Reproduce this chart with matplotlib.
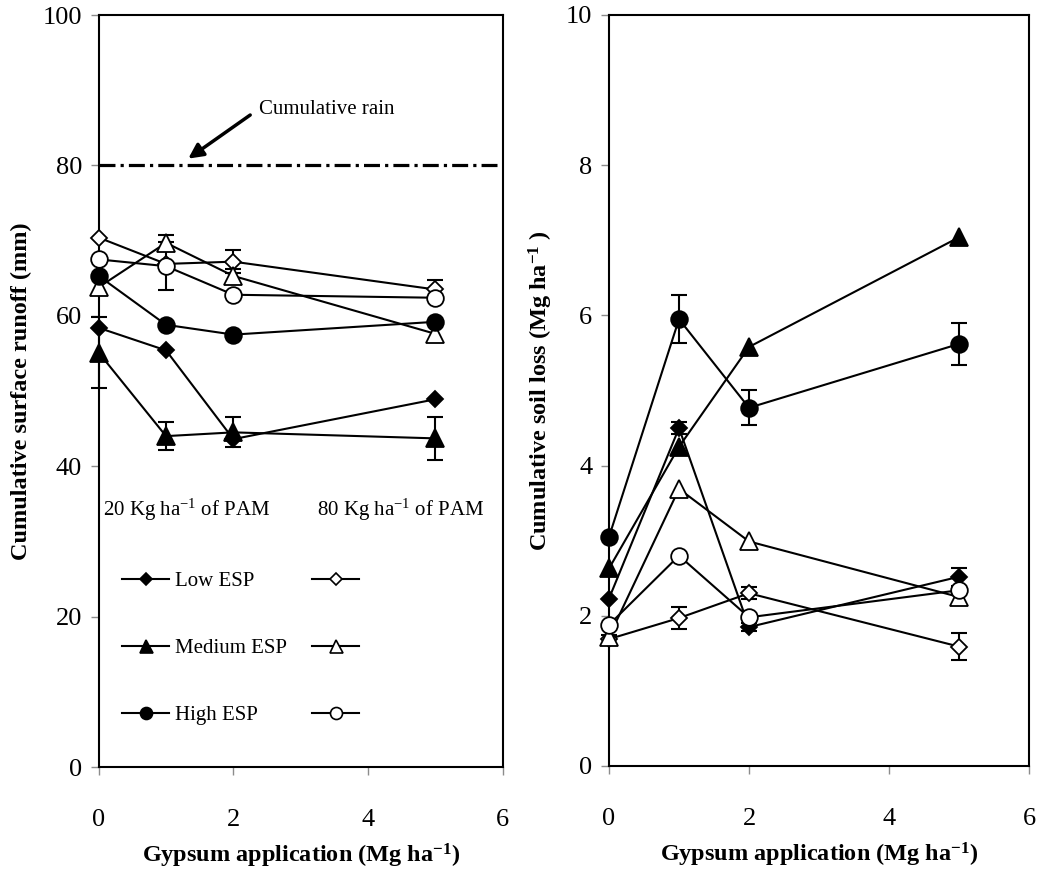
import numpy as np
import matplotlib.pyplot as plt
from matplotlib.lines import Line2D

plt.rcParams['font.family'] = ['Liberation Serif', 'DejaVu Serif']
plt.rcParams['mathtext.fontset'] = 'custom'
plt.rcParams['mathtext.rm'] = 'Liberation Serif'
plt.rcParams['mathtext.it'] = 'Liberation Serif:italic'
plt.rcParams['mathtext.bf'] = 'Liberation Serif:bold'

# gypsum rates (Mg/ha)
gypsum = np.array([0, 1, 2, 5])
cumulative_rain = 80

# cumulative surface runoff (mm)
runoff_low20 = [58.4, 55.4, 43.6, 48.9]
runoff_low80 = [70.4, 66.9, 67.2, 63.5]
runoff_med20 = [55.1, 44.0, 44.5, 43.7]
runoff_med80 = [63.8, 69.7, 65.3, 57.6]
runoff_high20 = [65.3, 58.8, 57.5, 59.2]
runoff_high80 = [67.5, 66.6, 62.8, 62.4]

runoff_err_low20 = [0, 0, 0, 0]
runoff_err_low80 = [0, 0, 1.5, 1.3]
runoff_err_med20 = [4.7, 1.9, 2.0, 2.9]
runoff_err_med80 = [0, 1.0, 0.9, 0]
runoff_err_high20 = [0, 0, 0, 0]
runoff_err_high80 = [0, 3.2, 0, 0]

# cumulative soil loss (Mg/ha)
loss_low20 = [2.23, 4.50, 1.85, 2.52]
loss_low80 = [1.69, 1.97, 2.30, 1.59]
loss_med20 = [2.63, 4.25, 5.58, 7.04]
loss_med80 = [1.72, 3.69, 2.99, 2.25]
loss_high20 = [3.05, 5.95, 4.77, 5.62]
loss_high80 = [1.88, 2.80, 1.98, 2.34]

loss_err_low20 = [0, 0.08, 0.05, 0.12]
loss_err_low80 = [0.05, 0.15, 0.08, 0.18]
loss_err_med20 = [0, 0, 0, 0]
loss_err_med80 = [0, 0, 0, 0]
loss_err_high20 = [0, 0.32, 0.23, 0.28]
loss_err_high80 = [0, 0, 0, 0]

esp_labels = ['Low ESP', 'Medium ESP', 'High ESP']
markers = {'low': ('D', 8.5), 'med': ('^', 13), 'high': ('o', 12)}

TICK_FS = 19
LABEL_FS = 17.5
TEXT_FS = 15


def draw_series(ax, y, err, kind, filled):
    marker, ms = markers[kind]
    err = np.asarray(err, dtype=float)
    y = np.asarray(y, dtype=float)
    m = err > 0
    if m.any():
        ax.errorbar(gypsum[m], y[m], yerr=err[m], fmt='none', ecolor='black',
                    elinewidth=1.5, capsize=5.5, capthick=1.5, zorder=2, clip_on=False)
    ax.plot(gypsum, y, color='black', lw=1.5, marker=marker, ms=ms,
            mfc='black' if filled else 'white', mec='black', mew=1.3,
            zorder=3, clip_on=False)


def style_axis(ax):
    for s in ax.spines.values():
        s.set_linewidth(1.5)
        s.set_color('black')
    ax.tick_params(direction='out', length=6, width=1, color='#8c8c8c',
                   labelsize=TICK_FS, labelcolor='black')
    ax.tick_params(axis='x', pad=24)
    ax.tick_params(axis='y', pad=6)
    ax.set_xlim(0, 6)
    ax.set_xticks([0, 2, 4, 6])
    ax.set_xlabel(r'Gypsum application (Mg ha$\mathbf{^{-1}}$)',
                  fontsize=LABEL_FS, fontweight='bold')
    ax.xaxis.set_label_coords(0.5, -0.1)


fig = plt.figure(figsize=(10.44, 8.76), dpi=100)
ax1 = fig.add_axes([98.7 / 1044, 109 / 876, 404 / 1044, 752 / 876])
ax2 = fig.add_axes([609 / 1044, 110 / 876, 420 / 1044, 751 / 876])

# left panel: runoff
draw_series(ax1, runoff_low20, runoff_err_low20, 'low', True)
draw_series(ax1, runoff_low80, runoff_err_low80, 'low', False)
draw_series(ax1, runoff_med20, runoff_err_med20, 'med', True)
draw_series(ax1, runoff_med80, runoff_err_med80, 'med', False)
draw_series(ax1, runoff_high20, runoff_err_high20, 'high', True)
draw_series(ax1, runoff_high80, runoff_err_high80, 'high', False)

ax1.axhline(cumulative_rain, xmin=0, xmax=0.987, color='black', lw=2.3,
            linestyle=(0, (5, 1.6, 1, 1.6)), zorder=1)
ax1.annotate('', xy=(1.33, 80.9), xytext=(2.25, 86.7),
             arrowprops=dict(arrowstyle='-|>', lw=2.5, color='black',
                             mutation_scale=22, shrinkA=0, shrinkB=0))
ax1.text(2.38, 87.4, 'Cumulative rain', fontsize=TEXT_FS, ha='left', va='center')

ax1.set_ylim(0, 100)
ax1.set_yticks([0, 20, 40, 60, 80, 100])
style_axis(ax1)
ax1.set_ylabel('Cumulative surface runoff (mm)', fontsize=LABEL_FS, fontweight='bold')
ax1.yaxis.set_label_coords(-0.165, 0.5)

# legend block
ax1.text(0.011, 0.342, r'20 Kg ha$^{-1}$ of PAM', transform=ax1.transAxes,
         fontsize=TEXT_FS, ha='left', va='center')
ax1.text(0.541, 0.342, r'80 Kg ha$^{-1}$ of PAM', transform=ax1.transAxes,
         fontsize=TEXT_FS, ha='left', va='center')

handles = []
for kind, fill in [('low', 'black'), ('med', 'black'), ('high', 'black'),
                   ('low', 'white'), ('med', 'white'), ('high', 'white')]:
    marker, ms = markers[kind]
    handles.append(Line2D([], [], color='black', lw=1.5, marker=marker,
                          ms=ms * 0.72, mfc=fill, mec='black', mew=1.2))
leg = ax1.legend(handles, esp_labels + ['', '', ''], ncol=2, frameon=False,
                 loc='upper left', bbox_to_anchor=(0.058, 0.26),
                 borderaxespad=0, borderpad=0, handlelength=2.25,
                 handletextpad=0.3, columnspacing=1.2, labelspacing=2.28,
                 fontsize=TEXT_FS)

# right panel: soil loss
draw_series(ax2, loss_low20, loss_err_low20, 'low', True)
draw_series(ax2, loss_low80, loss_err_low80, 'low', False)
draw_series(ax2, loss_med20, loss_err_med20, 'med', True)
draw_series(ax2, loss_med80, loss_err_med80, 'med', False)
draw_series(ax2, loss_high20, loss_err_high20, 'high', True)
draw_series(ax2, loss_high80, loss_err_high80, 'high', False)

ax2.set_ylim(0, 10)
ax2.set_yticks([0, 2, 4, 6, 8, 10])
style_axis(ax2)
ax2.set_ylabel(r'Cumulative soil loss (Mg ha$\mathbf{^{-1}}$ )', fontsize=LABEL_FS,
               fontweight='bold')
ax2.yaxis.set_label_coords(-0.128, 0.5)

fig.savefig('out.png', dpi=100)
